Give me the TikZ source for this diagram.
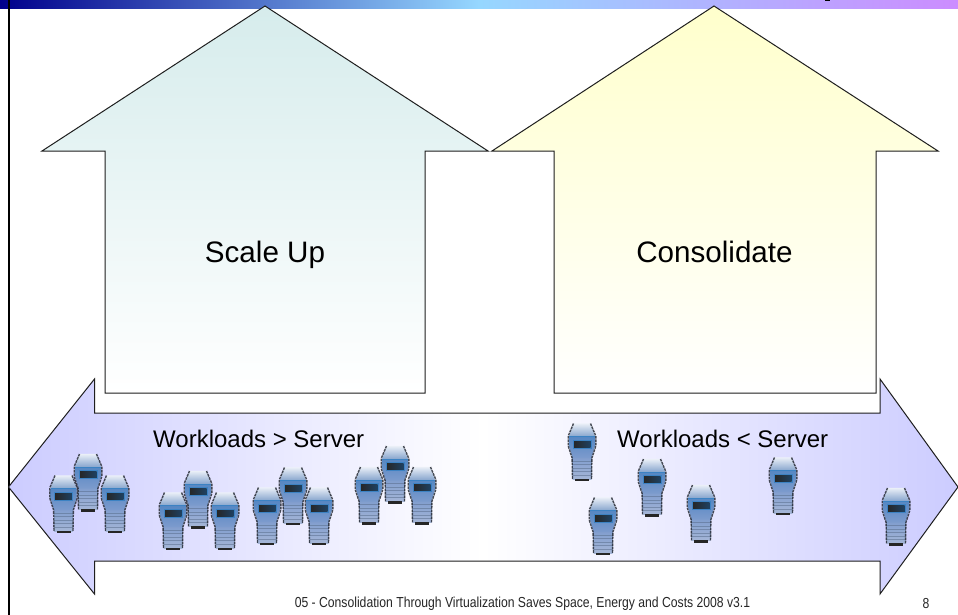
\documentclass[tikz,border=0pt]{standalone}
\usepackage{fontspec}
\setmainfont{Liberation Sans}
\newfontfamily\narrowfont[FakeStretch=0.84]{Liberation Sans}
\definecolor{bandA}{RGB}{0,0,140}
\definecolor{bandB}{RGB}{150,215,255}
\definecolor{bandC}{RGB}{204,140,255}
\definecolor{tealtint}{RGB}{214,236,236}
\definecolor{yellowtint}{RGB}{255,255,204}
\definecolor{lavtint}{RGB}{204,204,255}
\definecolor{edgeline}{RGB}{30,30,30}
\definecolor{srvedge}{RGB}{40,45,55}
\definecolor{srvblue}{RGB}{60,130,195}
\definecolor{srvpanelA}{RGB}{85,135,195}
\definecolor{srvpanelB}{RGB}{125,155,205}
\definecolor{srvtopA}{RGB}{235,240,248}
\definecolor{srvtopB}{RGB}{135,165,205}
\definecolor{srvstripe}{RGB}{85,105,135}
\definecolor{srvlow}{RGB}{165,182,215}
\tikzset{
  bigarrow/.style={draw=edgeline,line width=1pt,line join=miter},
  biglabel/.style={font=\fontsize{29.6}{33}\selectfont,text=black,inner sep=0pt,anchor=base},
  midlabel/.style={font=\fontsize{24}{28}\selectfont,text=black,inner sep=0pt,anchor=base west},
  footlabel/.style={font=\narrowfont\fontsize{14.5}{17}\selectfont,text=black!85,inner sep=0pt},
  pics/srv/.style={code={
    % lower stack
    \shade[top color=srvpanelB,bottom color=srvlow] (4,32) rectangle (23,56);
    \foreach \s in {38,41.5,45,48.5,52}{\draw[srvstripe,line width=.7pt,opacity=.5] (4,\s) -- (23,\s);}
    % top face
    \shade[top color=srvtopA,bottom color=srvtopB] (5,.3) -- (22,.3) -- (26.5,13.5) -- (.5,13.5) -- cycle;
    % front panel
    \shade[top color=srvpanelA,bottom color=srvpanelB] (.5,13.5) -- (26.5,13.5) -- (26.5,23) -- (23,35) -- (4,35) -- (.5,23) -- cycle;
    \draw[srvblue,line width=1pt] (.8,13.7) -- (26.2,13.7);
    % display
    \shade[left color=black!85,right color=srvblue!50!black] (5,17.5) rectangle (22,24.5);
    \draw[srvblue,line width=.8pt] (4.5,17) rectangle (22.5,25);
    % base
    \fill[black!85] (6.5,55.5) rectangle (20.5,58);
    % dark jagged silhouette
    \draw[srvedge,line width=1.4pt,dash pattern=on 2.6pt off .8pt,opacity=.85]
      (5,.5) -- (-.3,13) -- (-.3,23) -- (3.6,35) -- (4,56);
    \draw[srvedge,line width=1.4pt,dash pattern=on 2.6pt off .8pt,opacity=.85]
      (22,.5) -- (27.3,13) -- (27.3,23) -- (23.4,35) -- (23,56);
  }}
}
\begin{document}
\begin{tikzpicture}[x=1pt,y=-1pt]
\useasboundingbox (0,0) rectangle (958,615);
\fill[white] (0,0) rectangle (958,615);
% title band
\shade[left color=bandA,right color=bandC,middle color=bandB] (0,0) rectangle (958,9);
\fill[black] (825,0) rectangle (829.5,1.2);
% left rule
\draw[black,line width=2pt] (8.5,0) -- (8.5,615);
% up arrows
\path[bigarrow,top color=tealtint,bottom color=white]
  (265,6) -- (488,151) -- (425,151) -- (425,393) -- (105,393) -- (105,151) -- (42,151) -- cycle;
\path[bigarrow,top color=yellowtint,bottom color=white]
  (714,6) -- (938,151) -- (876,151) -- (876,393) -- (554,393) -- (554,151) -- (492,151) -- cycle;
% wide double arrow
\path[bigarrow,left color=lavtint,right color=lavtint,middle color=white]
  (8.5,487) -- (94.5,379) -- (94.5,413) -- (880,413) -- (880,379) -- (958,487)
  -- (880,594) -- (880,561) -- (94.5,561) -- (94.5,594) -- cycle;
% servers
\foreach \px/\py in {63.5/475,115/475,88/453.5,
                     173/492,225/492,198/470.5,
                     267/487,319/487,293/467,
                     369/466.5,422/466.5,395/445.5,
                     582/423,652/458.5,603/497,701/484.5,783/457,896/487.5}{
  \pic at (\px-13.5,\py) {srv};
}
% labels
\node[biglabel] (scaleup) at (265,262) {Scale Up};
\node[biglabel] (consolidate) at (714.5,262) {Consolidate};
\node[midlabel] (wlgt) at (153,447) {Workloads > Server};
\node[midlabel] (wllt) at (617,447) {Workloads < Server};
\node[footlabel] (foot) at (522.5,604) {05 - Consolidation Through Virtualization Saves Space, Energy and Costs 2008 v3.1};
\node[footlabel] (pagenum) at (926,604) {8};
\end{tikzpicture}
\end{document}
